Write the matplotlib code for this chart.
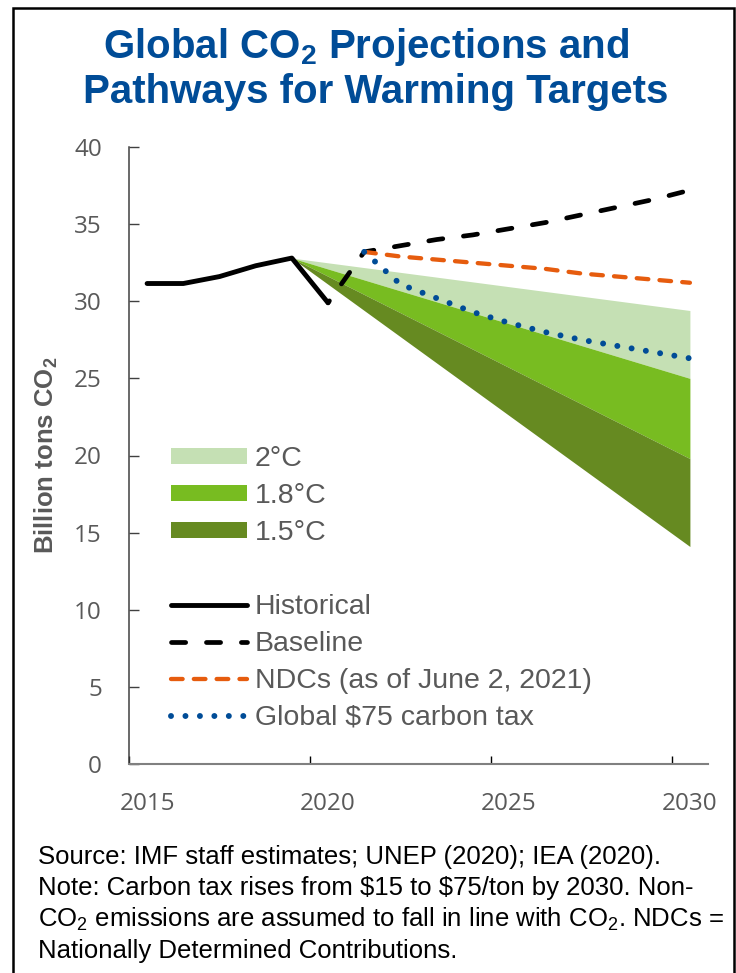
import matplotlib
matplotlib.use("Agg")
import matplotlib.pyplot as plt
import matplotlib.patches as mpatches
from matplotlib.lines import Line2D
from matplotlib.font_manager import FontProperties

plt.rcParams["mathtext.fontset"] = "custom"
plt.rcParams["mathtext.rm"] = "Liberation Sans"
plt.rcParams["mathtext.it"] = "Liberation Sans:italic"
plt.rcParams["mathtext.bf"] = "Liberation Sans:bold"
plt.rcParams["mathtext.default"] = "rm"

# ---- data (billion tons CO2) ----
hist_years = [2015, 2016, 2017, 2018, 2019, 2020]
hist_values = [31.15, 31.15, 31.6, 32.3, 32.8, 29.9]

baseline_years = [2020, 2021, 2022, 2023, 2024, 2025, 2026, 2027, 2028, 2029, 2030]
baseline_values = [29.9, 33.2, 33.6, 34.0, 34.3, 34.7, 35.1, 35.6, 36.1, 36.6, 37.2]

ndc_years = [2021, 2022, 2023, 2024, 2025, 2026, 2027, 2028, 2029, 2030]
ndc_values = [33.2, 32.9, 32.7, 32.5, 32.3, 32.1, 31.8, 31.6, 31.4, 31.2]

tax_years = [2021, 2022, 2023, 2024, 2025, 2026, 2027, 2028, 2029, 2030]
tax_values = [33.2, 31.1, 30.2, 29.3, 28.6, 28.0, 27.5, 27.1, 26.7, 26.3]

# warming-target pathway bands: straight wedges from 2019 to 2030
band_years = [2019, 2030]
band_2c_upper = [32.8, 29.4]
band_2c_lower = [32.8, 25.0]
band_18c_upper = [32.8, 25.0]
band_18c_lower = [32.8, 19.8]
band_15c_upper = [32.8, 19.8]
band_15c_lower = [32.8, 14.1]

band_labels = ["2°C", "1.8°C", "1.5°C"]
line_labels = ["Historical", "Baseline", "NDCs (as of June 2, 2021)", "Global \\$75 carbon tax"]

x_tick_years = [2015, 2020, 2025, 2030]
x_minor_ticks = [2014.5, 2019.5, 2024.5, 2029.5]
y_ticks = [0, 5, 10, 15, 20, 25, 30, 35, 40]

# ---- styles ----
C_2C = "#C5E0B4"
C_18C = "#78BC21"
C_15C = "#668A21"
C_NDC = "#E65C0E"
C_TAX = "#004C97"
C_TITLE = "#004C97"
C_GRAY = "#595959"

BASE_DASH = (3.0, 4.4)

W, H = 736, 973
fig = plt.figure(figsize=(W / 100, H / 100), dpi=100)

def fx(px):
    return px / W

def fy(py):
    return 1 - py / H

ax = fig.add_axes([fx(129), fy(764), fx(708) - fx(129), fy(147) - fy(764)])

ax.fill_between(band_years, band_2c_lower, band_2c_upper, color=C_2C, lw=0, zorder=1)
ax.fill_between(band_years, band_18c_lower, band_18c_upper, color=C_18C, lw=0, zorder=1)
ax.fill_between(band_years, band_15c_lower, band_15c_upper, color=C_15C, lw=0, zorder=1)

l_hist, = ax.plot(hist_years, hist_values, color="black", lw=3.5,
                  solid_capstyle="round", solid_joinstyle="round", zorder=5)
l_base, = ax.plot(baseline_years, baseline_values, color="black", lw=3.4,
                  linestyle=(2.5, BASE_DASH), dash_capstyle="round", zorder=3)
l_ndc, = ax.plot(ndc_years, ndc_values, color=C_NDC, lw=3.1,
                 linestyle=(0, (2.7, 2.6)), dash_capstyle="round", zorder=4)
l_tax, = ax.plot(tax_years, tax_values, color=C_TAX, lw=4.3,
                 linestyle=(0, (0.001, 2.42)), dash_capstyle="round", zorder=6)

ax.set_xlim(2014.5, 2030.5)
ax.set_ylim(0, 40)

for s in ("top", "right"):
    ax.spines[s].set_visible(False)
ax.spines["left"].set_color("#404040")
ax.spines["left"].set_linewidth(1.1)
ax.spines["bottom"].set_color("#808080")
ax.spines["bottom"].set_linewidth(1.5)

tick_font = FontProperties(family="Open Sans", size=17.5)
ax.set_yticks(y_ticks)
ax.set_yticklabels([str(v) for v in y_ticks], fontproperties=tick_font, color=C_GRAY)
ax.tick_params(axis="y", direction="in", length=7, width=1, color="#404040", pad=19.5)

ax.set_xticks(x_tick_years)
ax.set_xticklabels([str(v) for v in x_tick_years], fontproperties=tick_font, color=C_GRAY)
ax.set_xticks(x_minor_ticks, minor=True)
ax.tick_params(axis="x", which="major", length=0, pad=20)
ax.tick_params(axis="x", which="minor", direction="in", length=6, width=1, color="black")

# legend (baseline key starts on a dash)
base_key = Line2D([], [], color="black", lw=3.4, linestyle=(0, BASE_DASH),
                  dash_capstyle="round")
handles = [
    mpatches.Patch(facecolor=C_2C, edgecolor="none"),
    mpatches.Patch(facecolor=C_18C, edgecolor="none"),
    mpatches.Patch(facecolor=C_15C, edgecolor="none"),
    Line2D([], [], color="none"),
    l_hist, base_key, l_ndc, l_tax,
]
labels = band_labels + [" "] + line_labels
leg = ax.legend(handles, labels, loc="upper left",
                bbox_to_anchor=(fx(171), fy(446)), bbox_transform=fig.transFigure,
                prop=FontProperties(family="Liberation Sans", size=20.5),
                labelcolor=C_GRAY, frameon=False, borderpad=0, borderaxespad=0,
                handlelength=2.67, handleheight=0.5, handletextpad=0.28,
                labelspacing=0.385)

# title
title_kw = dict(fontsize=29, fontweight="bold", color=C_TITLE,
                family="Liberation Sans", ha="center", va="baseline")
fig.text(fx(366), fy(58), "Global CO$_\\mathbf{2}$ Projections and", **title_kw)
fig.text(fx(376), fy(103), "Pathways for Warming Targets", **title_kw)

# y-axis label
fig.text(fx(46), fy(455), "Billion tons CO$_\\mathbf{2}$", rotation=90,
         ha="center", va="center", fontsize=18.5, fontweight="bold",
         color=C_GRAY, family="Liberation Sans")

# source / note
note_lines = [
    "Source: IMF staff estimates; UNEP (2020); IEA (2020).",
    "Note: Carbon tax rises from \\$15 to \\$75/ton by 2030. Non-",
    "CO$_2$ emissions are assumed to fall in line with CO$_2$. NDCs =",
    "Nationally Determined Contributions.",
]
note_baselines = [864, 895, 927, 958]
for txt, yb in zip(note_lines, note_baselines):
    fig.text(fx(38), fy(yb), txt, fontsize=18.5, color="black",
             family="Liberation Sans", ha="left", va="baseline")

# frame around the figure
fig.add_artist(mpatches.Rectangle((fx(12.5), -0.02), fx(733.5) - fx(12.5), fy(7.5) + 0.02,
                                  transform=fig.transFigure, fill=False,
                                  edgecolor="black", linewidth=1.8, clip_on=False))

fig.savefig("out.png", dpi=100)
